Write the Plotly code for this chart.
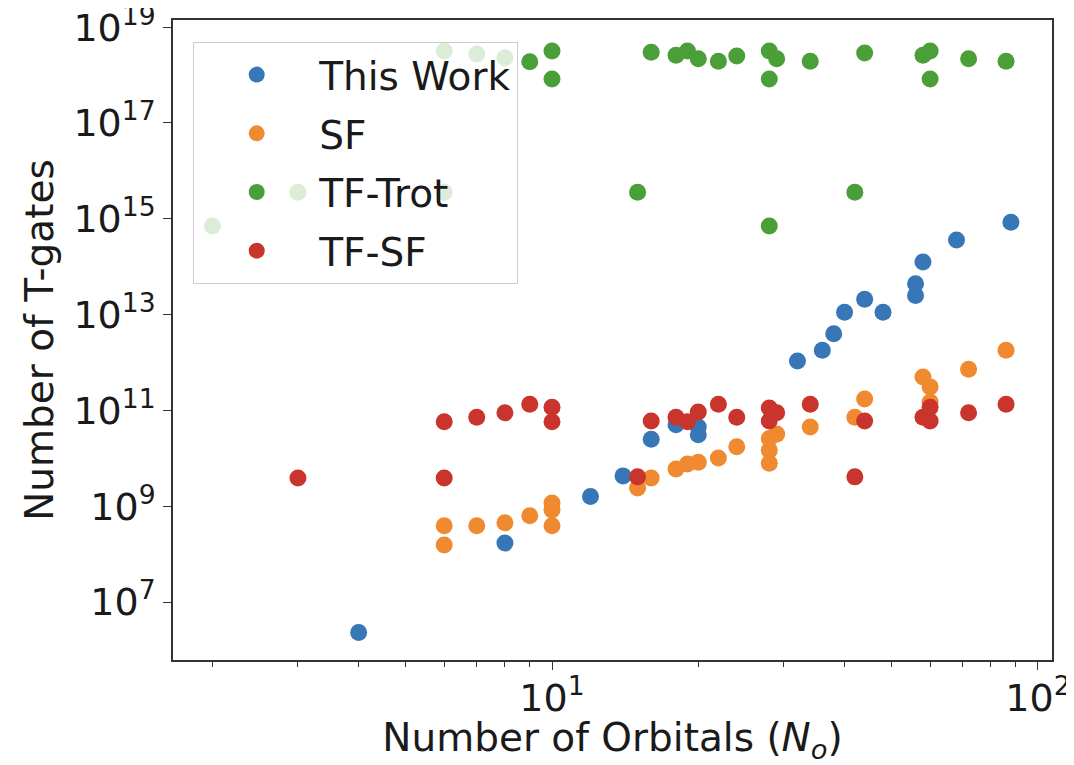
import plotly.graph_objects as go

# ---- data ----
this_work_x = [4, 8, 12, 14, 16, 18, 20, 20, 32, 36, 38, 40, 44, 48, 56, 56, 58, 68, 88]
this_work_y = [2.3e6, 1.7e8, 1.6e9, 4.3e9, 2.5e10, 5.0e10, 4.5e10, 3.1e10, 1.07e12, 1.8e12,
               4.0e12, 1.12e13, 2.1e13, 1.12e13, 4.4e13, 2.5e13, 1.26e14, 3.6e14, 8.5e14]

sf_x = [6, 6, 7, 8, 9, 10, 10, 10, 15, 16, 18, 19, 20, 22, 24, 28, 28, 28, 29, 34, 42, 44,
        58, 60, 60, 72, 86]
sf_y = [3.9e8, 1.55e8, 3.9e8, 4.5e8, 6.3e8, 1.17e9, 8.3e8, 3.9e8, 2.4e9, 3.9e9, 6.0e9, 7.6e9,
        8.3e9, 1.02e10, 1.74e10, 7.9e9, 1.48e10, 2.6e10, 3.2e10, 4.5e10, 7.2e10, 1.74e11,
        5.0e11, 3.1e11, 1.5e11, 7.2e11, 1.8e12]

tf_trot_x = [2, 3, 6, 6, 7, 8, 9, 10, 10, 15, 16, 18, 19, 20, 22, 24, 28, 28, 28, 29, 34,
             42, 44, 58, 60, 60, 72, 86]
tf_trot_y = [7.1e14, 3.6e15, 3.6e15, 3.2e18, 2.75e18, 2.3e18, 1.9e18, 3.2e18, 8.3e17, 3.6e15,
             3.0e18, 2.6e18, 3.2e18, 2.2e18, 1.95e18, 2.5e18, 3.2e18, 8.3e17, 7.1e14, 2.2e18,
             1.95e18, 3.6e15, 2.9e18, 2.6e18, 3.2e18, 8.3e17, 2.2e18, 1.95e18]

tf_sf_x = [3, 6, 6, 7, 8, 9, 10, 10, 15, 16, 18, 19, 20, 22, 24, 28, 28, 29, 34, 42, 44,
           58, 60, 60, 72, 86]
tf_sf_y = [3.9e9, 3.9e9, 5.8e10, 7.2e10, 8.9e10, 1.35e11, 1.17e11, 5.8e10, 4.1e9, 6.0e10,
           7.2e10, 5.8e10, 9.3e10, 1.35e11, 7.2e10, 1.12e11, 6.0e10, 8.9e10, 1.35e11, 4.1e9,
           6.0e10, 7.2e10, 1.17e11, 6.0e10, 8.9e10, 1.35e11]

series_names = ["This Work", "SF", "TF-Trot", "TF-SF"]
series_colors = ["#3777b8", "#f08a30", "#4a9f38", "#c9352d"]
series_x = [this_work_x, sf_x, tf_trot_x, tf_sf_x]
series_y = [this_work_y, sf_y, tf_trot_y, tf_sf_y]

x_tick_vals = [10, 100]
x_tick_text = ["10<sup>1</sup>", "10<sup>2</sup>"]
x_minor_ticks = [2, 3, 4, 5, 6, 7, 8, 9, 20, 30, 40, 50, 60, 70, 80, 90]
y_tick_exps = [7, 9, 11, 13, 15, 17, 19]
y_tick_vals = [10.0 ** e for e in y_tick_exps]
y_tick_text = ["10<sup>%d</sup>" % e for e in y_tick_exps]

FONT = "DejaVu Sans"
TXT = "#1a1a1a"

fig = go.Figure()
for name, col, xs, ys in zip(series_names, series_colors, series_x, series_y):
    fig.add_trace(go.Scatter(
        x=xs, y=ys, mode="markers", name=name, legendgroup=name,
        marker=dict(color=col, size=17, line=dict(width=0)),
    ))

axis_common = dict(
    showline=True, mirror=True, linecolor="#333333", linewidth=1.6,
    ticks="outside", ticklen=8, tickwidth=1.4, tickcolor="#333333",
    showgrid=False, zeroline=False, automargin=False,
    tickfont=dict(family=FONT, size=38, color=TXT),
    tickmode="array", ticklabeloverflow="allow",
)

fig.update_xaxes(
    type="log", range=[0.220, 2.029],
    tickvals=x_tick_vals, ticktext=x_tick_text, ticklabelstandoff=-4,
    title=dict(text="Number of Orbitals (<i>N</i><sub><i>o</i></sub>)",
               font=dict(family=FONT, size=39, color=TXT), standoff=15),
    minor=dict(tickmode="array", tickvals=x_minor_ticks, ticks="outside",
               ticklen=5, tickwidth=1.2, tickcolor="#333333"),
    **axis_common,
)
fig.update_yaxes(
    type="log", range=[5.79, 19.15],
    tickvals=y_tick_vals, ticktext=y_tick_text,
    title=dict(text="Number of T-gates",
               font=dict(family=FONT, size=39, color=TXT), standoff=8),
    **axis_common,
)

# page body adds an 8px offset, so the figure is sized to fit the window
fig.update_layout(
    width=1066, height=757,
    margin=dict(l=165, r=22, t=12, b=105),
    paper_bgcolor="white", plot_bgcolor="white",
    showlegend=True,
    legend=dict(
        x=0.023, y=0.966, xanchor="left", yanchor="top",
        bgcolor="rgba(255,255,255,0.8)", bordercolor="#cccccc", borderwidth=1,
        font=dict(family=FONT, size=39, color=TXT),
        itemwidth=115, tracegroupgap=5,
    ),
)

fig.write_html("out.html")
